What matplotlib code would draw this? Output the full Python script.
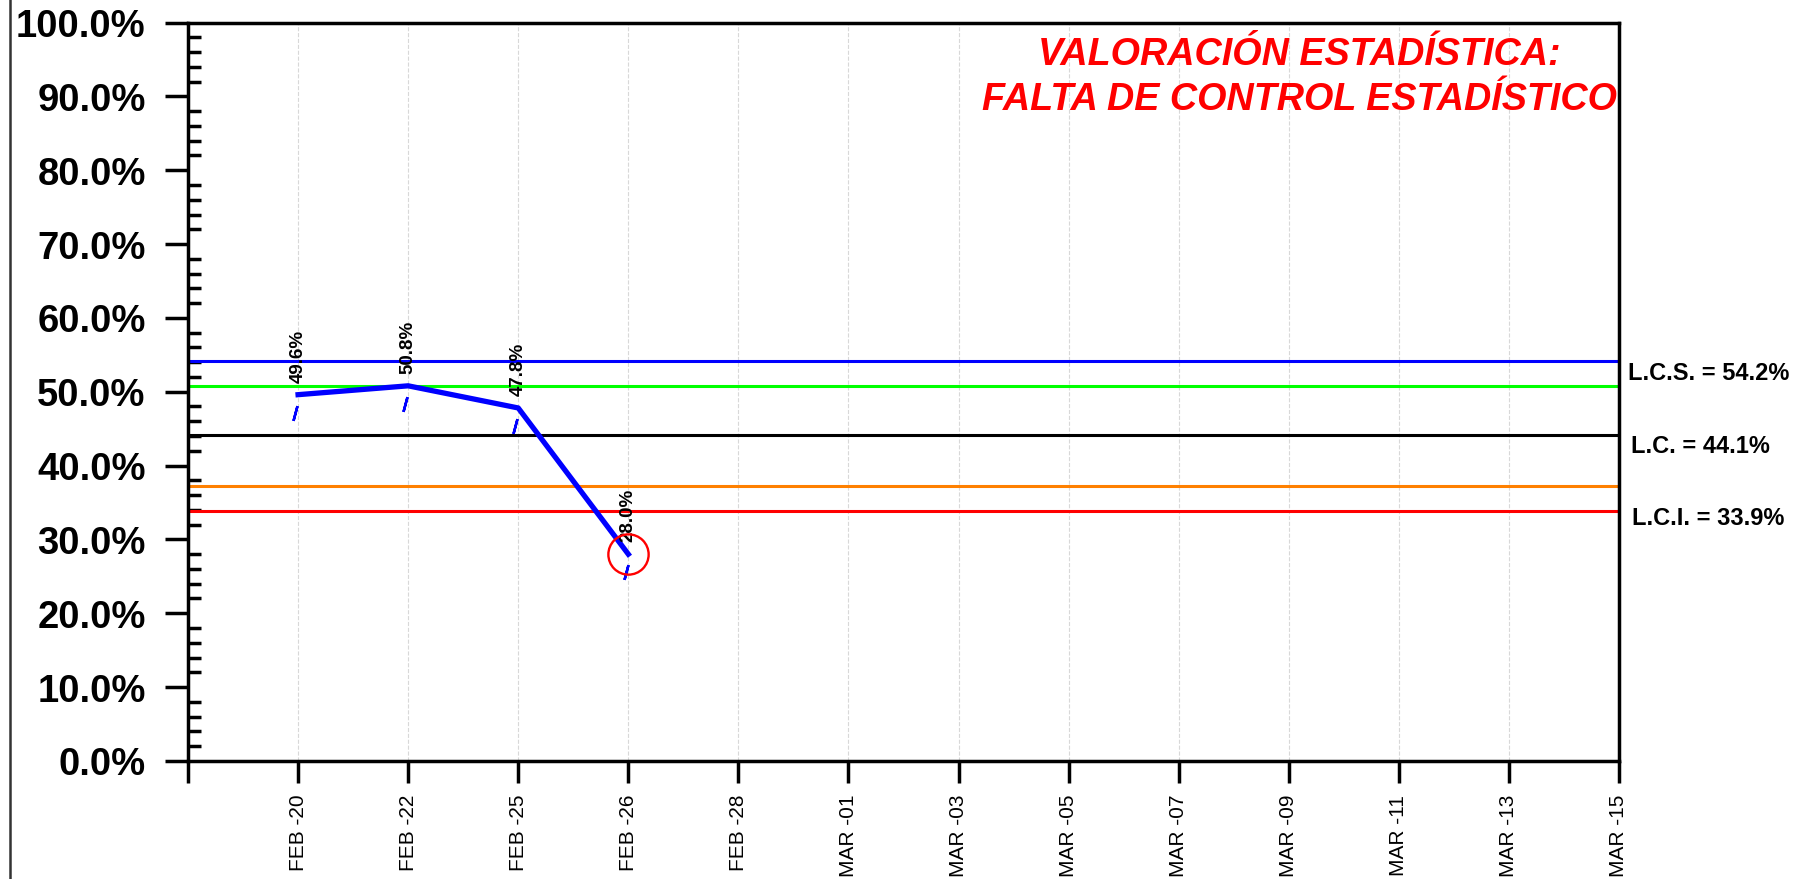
import numpy as np
import matplotlib
matplotlib.use("Agg")
from matplotlib import pyplot as plt
from matplotlib.lines import Line2D
from matplotlib.ticker import MultipleLocator, FuncFormatter
from matplotlib.transforms import offset_copy

plt.rcParams['font.family'] = ['Liberation Sans', 'DejaVu Sans']

# data
fechas = ['FEB -20', 'FEB -22', 'FEB -25', 'FEB -26', 'FEB -28', 'MAR -01', 'MAR -03',
          'MAR -05', 'MAR -07', 'MAR -09', 'MAR -11', 'MAR -13', 'MAR -15']
valores = [49.6, 50.8, 47.8, 28.0]
lcs = 54.2
lc = 44.1
lci = 33.9
lim_sup2 = 50.8
lim_inf2 = 37.3
fuera_control = [3]  # index of points out of control

fig = plt.figure(figsize=(18.05, 8.795), dpi=100)
ax = fig.add_axes([188 / 1805, 1 - 761 / 879, (1619 - 188) / 1805, (761 - 23) / 879])

xv = np.arange(1, len(valores) + 1)

ax.set_xlim(0, len(fechas))
ax.set_ylim(0, 100)

# control lines
ax.axhline(lcs, color='#0000ff', lw=2.2)
ax.axhline(lim_sup2, color='#00ff00', lw=2.2)
ax.axhline(lc, color='black', lw=2.2)
ax.axhline(lim_inf2, color='#ff8000', lw=2.2)
ax.axhline(lci, color='#ff0000', lw=2.2)

# data line
ax.plot(xv, valores, color='#0000ff', lw=3.8, zorder=5)

for xi, v in zip(xv, valores):
    ax.annotate('%.1f%%' % v, (xi, v), xytext=(0, 9), textcoords='offset points',
                rotation=90, ha='center', va='bottom', fontsize=13.5, fontweight='bold', zorder=6)

tr = offset_copy(ax.transData, fig=fig, x=-2, y=-13, units='points')
ax.plot(xv, valores, linestyle='none', marker=(2, 2, -15), markersize=11,
        markeredgecolor='#0000ff', markeredgewidth=1.8, transform=tr, zorder=5)

for i in fuera_control:
    ax.plot(xv[i], valores[i], marker='o', markersize=29, fillstyle='none',
            markeredgecolor='#ff0000', markeredgewidth=1.7, zorder=6)

# right side labels
ytr = ax.get_yaxis_transform()
ax.text(1.0065, lcs - 1.7, 'L.C.S. = %.1f%%' % lcs, transform=ytr,
        ha='left', va='center', fontsize=17, fontweight='bold')
ax.text(1.0085, lc - 1.5, 'L.C. = %.1f%%' % lc, transform=ytr,
        ha='left', va='center', fontsize=17, fontweight='bold')
ax.text(1.0092, lci - 1.0, 'L.C.I. = %.1f%%' % lci, transform=ytr,
        ha='left', va='center', fontsize=17, fontweight='bold')

ax.text(0.7764, 0.9566, 'VALORACIÓN ESTADÍSTICA:', transform=ax.transAxes,
        ha='center', va='center', color='#ff0000',
        fontsize=27.2, fontweight='bold', fontstyle='italic')
ax.text(0.7764, 0.8957, 'FALTA DE CONTROL ESTADÍSTICO', transform=ax.transAxes,
        ha='center', va='center', color='#ff0000',
        fontsize=27.2, fontweight='bold', fontstyle='italic')

# axes styling
ax.set_xticks(np.arange(0, len(fechas) + 1))
ax.set_xticklabels([''] + fechas, rotation=90, fontsize=15)
ax.yaxis.set_major_locator(MultipleLocator(10))
ax.yaxis.set_minor_locator(MultipleLocator(2))
ax.yaxis.set_major_formatter(FuncFormatter(lambda v, p: '%.1f%%' % v))
for lab in ax.get_yticklabels():
    lab.set_fontweight('bold')
ax.tick_params(axis='y', which='major', direction='out', length=16.5, width=2.5,
               labelsize=27.5, pad=14)
ax.tick_params(axis='y', which='minor', direction='in', length=9, width=2.5)
ax.tick_params(axis='x', which='major', direction='out', length=16, width=2.5, pad=8)
ax.grid(axis='x', color='#d8d8d8', linestyle='--', lw=0.8)
for s in ax.spines.values():
    s.set_linewidth(2.5)

fig.add_artist(Line2D([10 / 1805, 10 / 1805], [0, 1], color='#333333', lw=1.8))

fig.savefig('out.png', dpi=100)
